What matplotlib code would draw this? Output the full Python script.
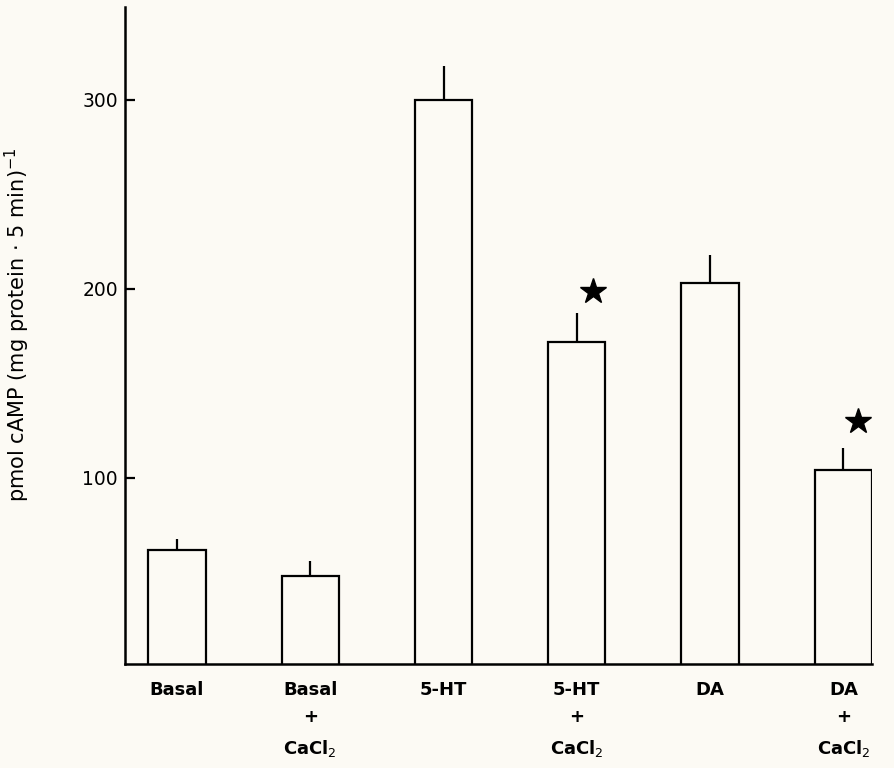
import numpy as np
import matplotlib.pyplot as plt

labels = ['Basal', 'Basal\n+\nCaCl$_2$', '5-HT', '5-HT\n+\nCaCl$_2$', 'DA', 'DA\n+\nCaCl$_2$']
values = [62, 48, 300, 172, 203, 104]
errors = [5.5, 8, 18, 15, 15, 12]
# significance stars (value where the star sits, None = no star)
stars = [None, None, None, 199, None, 130]
star_dx = [0, 0, 0, 0.12, 0, 0.11]

bg = '#fcfaf4'
plt.rcParams['font.family'] = 'DejaVu Sans'

fig = plt.figure(figsize=(8.95, 7.68), dpi=100, facecolor=bg)
ax = fig.add_axes([0.1397, 0.1354, 0.8346, 0.8555])
ax.set_facecolor(bg)

x = np.arange(len(values))
ax.bar(x, values, width=0.43, color=bg, edgecolor='black', linewidth=1.6,
       zorder=2)
ax.errorbar(x, values, yerr=[np.zeros(len(errors)), errors], fmt='none',
            ecolor='black', elinewidth=1.6, capsize=0, zorder=3)

for i, s in enumerate(stars):
    if s is not None:
        ax.plot(x[i] + star_dx[i], s, marker='*', color='black',
                markersize=19, zorder=4)

ax.set_xlim(-0.39, 5.215)
ax.set_ylim(1.5, 349)

ax.spines['top'].set_visible(False)
ax.spines['right'].set_visible(False)
ax.spines['left'].set_linewidth(1.8)
ax.spines['bottom'].set_linewidth(1.8)

ax.set_yticks([100, 200, 300])
ax.set_yticklabels(['100', '200', '300'])
ax.tick_params(axis='y', direction='in', length=7, width=1.6, pad=5,
               labelsize=13.5)
ax.set_xticks(x)
ax.set_xticklabels(labels, fontsize=13, fontweight='bold', linespacing=1.7)
ax.tick_params(axis='x', length=0, pad=12)

ax.set_ylabel('pmol cAMP (mg protein $\\cdot$ 5 min)$^{-1}$', fontsize=15)
ax.yaxis.set_label_coords(-0.125, 0.516)

fig.savefig('out.png', dpi=100, facecolor=bg)
